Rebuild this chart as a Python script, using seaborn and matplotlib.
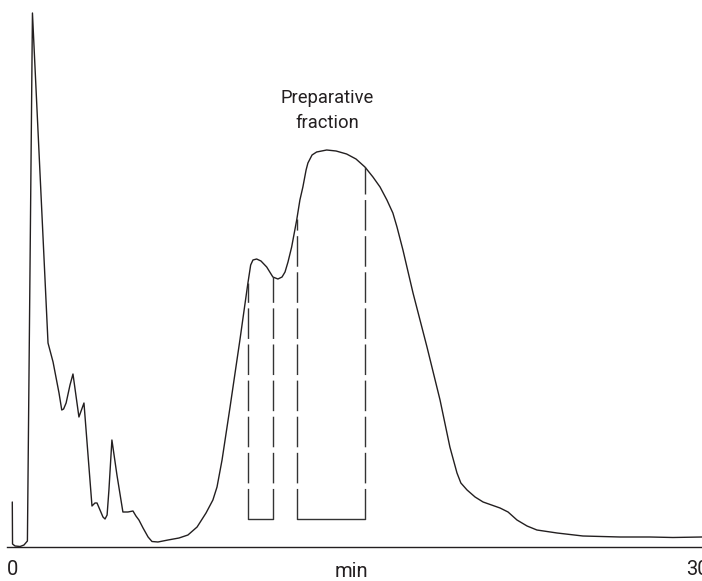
import numpy as np
import pandas as pd
import matplotlib
matplotlib.use("Agg")
import matplotlib.pyplot as plt
import matplotlib.transforms as mtransforms
import seaborn as sns

# ---- data (time in min, detector signal in arbitrary units) ----
time_min = [0.10, 0.11, 0.22, 0.44, 0.61, 0.76, 0.98, 1.66, 1.88, 2.14, 2.26, 2.34,
            2.45, 2.62, 2.75, 3.01, 3.23, 3.58, 3.71, 3.80, 3.93, 4.06, 4.15, 4.24,
            4.32, 4.45, 4.67, 4.93, 5.15, 5.37, 5.50, 5.63, 5.81, 6.03, 6.20, 6.46,
            6.90, 7.38, 7.77, 8.17, 8.56, 8.86, 9.04, 9.26, 9.61, 10.04, 10.39, 10.51,
            10.61, 10.77, 10.96, 11.21, 11.48, 11.70, 11.88, 12.01, 12.14, 12.30, 12.52,
            12.66, 12.79, 12.93, 13.01, 13.19, 13.39, 13.83, 14.24, 14.70, 15.11, 15.50,
            15.85, 16.16, 16.46, 16.72, 16.90, 17.16, 17.60, 18.21, 18.78, 19.21, 19.52,
            19.69, 19.96, 20.31, 20.66, 21.40, 21.75, 22.14, 22.58, 23.01, 23.89, 25.02,
            26.64, 27.95, 28.95, 30.22]
signal = [44.5, 2.5, 0.5, 0.0, 1.5, 5.5, 533.5, 203.5, 184.5, 153.5, 136.5, 137.5,
          143.5, 161.5, 172.5, 129.5, 143.5, 40.5, 43.5, 43.5, 36.5, 29.5, 27.5, 31.5,
          56.5, 106.5, 71.5, 34.5, 34.5, 35.5, 30.5, 26.5, 18.5, 9.5, 5.0, 4.5,
          6.5, 8.5, 11.5, 19.5, 33.5, 46.5, 59.5, 86.5, 139.5, 206.5, 263.5, 281.5,
          286.5, 287.5, 285.5, 279.5, 269.5, 267.5, 269.5, 274.5, 284.5, 299.5, 326.5,
          346.5, 359.5, 376.5, 383.5, 391.5, 394.5, 396.5, 395.5, 392.5, 387.5, 379.5,
          369.5, 359.5, 346.5, 333.5, 319.5, 296.5, 253.5, 199.5, 146.5, 99.5, 73.5,
          63.5, 56.5, 49.5, 44.5, 38.5, 34.5, 26.5, 20.5, 16.5, 13.5, 10.5,
          9.5, 9.5, 9.0, 9.5]

# fraction cut points (min): two collection windows
fraction_bounds = [(10.39, 11.49), (12.53, 15.50)]
bracket_level = 27.5

tick_positions = [0, 30]
tick_labels = ["0", "30"]
x_label = "min"
annotation = "Preparative\nfraction"
annotation_pos = (13.84, 436)

# ---- style ----
sns.set_theme(style="white")
plt.rcParams["font.family"] = ["Liberation Sans Narrow", "Roboto", "DejaVu Sans"]
ink = "#231f20"

fig = plt.figure(figsize=(7.02, 5.81), dpi=100)
ax = fig.add_axes([0, 34.5 / 581, 1, 546.5 / 581])

df = pd.DataFrame({"time": time_min, "signal": signal})
sns.lineplot(data=df, x="time", y="signal", ax=ax, sort=False, estimator=None,
             color=ink, lw=1.0)

for (a, b) in fraction_bounds:
    ya = np.interp(a, time_min, signal)
    yb = np.interp(b, time_min, signal)
    ax.plot([a, a], [bracket_level, ya], color="#333333", lw=1.0, dashes=(22, 4))
    ax.plot([b, b], [bracket_level, yb], color="#333333", lw=1.0, dashes=(22, 4))
    ax.plot([a, b], [bracket_level, bracket_level], color="#333333", lw=1.0)

ax.text(*annotation_pos, annotation, ha="center", va="center", fontsize=13.2,
        color=ink, linespacing=1.45)

ax.set_xlim(-0.437, 30.22)
ax.set_ylim(0, 546.5)
for s in ["top", "right", "left"]:
    ax.spines[s].set_visible(False)
ax.spines["bottom"].set_color(ink)
ax.spines["bottom"].set_linewidth(1.0)
ax.spines["bottom"].set_bounds(-0.13, 30.22)
ax.set_yticks([])
ax.set_xticks(tick_positions)
ax.set_xticklabels(tick_labels)
ax.tick_params(axis="x", length=0, pad=10, labelsize=14.5, labelcolor=ink)
# nudge the "0" label slightly right as in the reference
first = ax.get_xticklabels()[0]
first.set_transform(first.get_transform() +
                    mtransforms.ScaledTranslation(3 / 100, 0, fig.dpi_scale_trans))
ax.set_xlabel(x_label, fontsize=14.5, color=ink, va="baseline")
ax.xaxis.set_label_coords(0.5, -(577 - 546.5) / 546.5)
ax.set_ylabel("")
ax.patch.set_alpha(0)

fig.savefig("out.png", dpi=100)
